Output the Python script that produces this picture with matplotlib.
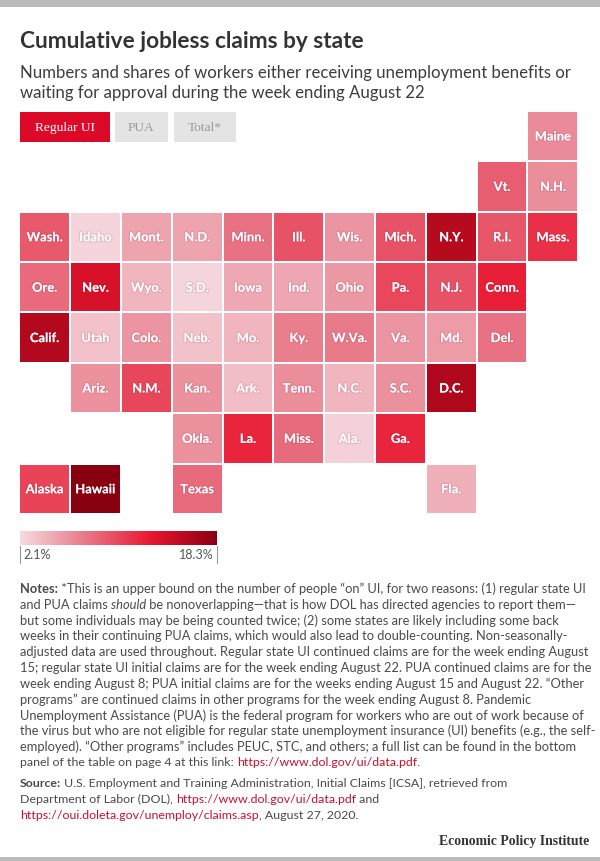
import numpy as np
import matplotlib
matplotlib.use("Agg")
import matplotlib.pyplot as plt
import matplotlib.patheffects as pe
from matplotlib.colors import LinearSegmentedColormap, Normalize
from matplotlib.patches import Rectangle

W, H = 600, 862

# tile grid, one list per row, None = empty cell
grid = [
    [None, None, None, None, None, None, None, None, None, None, "Maine"],
    [None, None, None, None, None, None, None, None, None, "Vt.", "N.H."],
    ["Wash.", "Idaho", "Mont.", "N.D.", "Minn.", "Ill.", "Wis.", "Mich.", "N.Y.", "R.I.", "Mass."],
    ["Ore.", "Nev.", "Wyo.", "S.D.", "Iowa", "Ind.", "Ohio", "Pa.", "N.J.", "Conn.", None],
    ["Calif.", "Utah", "Colo.", "Neb.", "Mo.", "Ky.", "W.Va.", "Va.", "Md.", "Del.", None],
    [None, "Ariz.", "N.M.", "Kan.", "Ark.", "Tenn.", "N.C.", "S.C.", "D.C.", None, None],
    [None, None, None, "Okla.", "La.", "Miss.", "Ala.", "Ga.", None, None, None],
    ["Alaska", "Hawaii", None, "Texas", None, None, None, None, "Fla.", None, None],
]

# share of workers, estimated from tile colour
shares = {
    "Maine": 6.5, "Vt.": 9.0, "N.H.": 6.3,
    "Wash.": 9.2, "Idaho": 2.6, "Mont.": 5.2, "N.D.": 5.2, "Minn.": 7.8, "Ill.": 9.6,
    "Wis.": 5.9, "Mich.": 9.6, "N.Y.": 15.8, "R.I.": 9.4, "Mass.": 11.5,
    "Ore.": 8.3, "Nev.": 14.0, "Wyo.": 4.2, "S.D.": 2.5, "Iowa": 4.9, "Ind.": 5.0,
    "Ohio": 5.8, "Pa.": 10.2, "N.J.": 9.6, "Conn.": 12.5,
    "Calif.": 15.9, "Utah": 3.6, "Colo.": 6.0, "Neb.": 3.5, "Mo.": 4.2, "Ky.": 7.2,
    "W.Va.": 7.4, "Va.": 5.9, "Md.": 5.6, "Del.": 7.8,
    "Ariz.": 6.1, "N.M.": 10.3, "Kan.": 6.1, "Ark.": 3.8, "Tenn.": 6.4, "N.C.": 4.2,
    "S.C.": 6.2, "D.C.": 16.2,
    "Okla.": 6.2, "La.": 12.2, "Miss.": 8.2, "Ala.": 2.7, "Ga.": 12.1,
    "Alaska": 10.5, "Hawaii": 18.3, "Texas": 8.2, "Fla.": 4.5,
}
vmin, vmax = 2.1, 18.3

title = "Cumulative jobless claims by state"
subtitle = [
    "Numbers and shares of workers either receiving unemployment benefits or",
    "waiting for approval during the week ending August 22",
]
buttons = ["Regular UI", "PUA", "Total*"]

R, I, L, N = "bold", "italic", "link", "normal"
notes = [
    [("Notes:", R), (" *This is an upper bound on the number of people \u201con\u201d UI, for two reasons: (1) regular state UI", N)],
    [("and PUA claims ", N), ("should", I), (" be nonoverlapping\u2014that is how DOL has directed agencies to report them\u2014", N)],
    [("but some individuals may be being counted twice; (2) some states are likely including some back", N)],
    [("weeks in their continuing PUA claims, which would also lead to double-counting. Non-seasonally-", N)],
    [("adjusted data are used throughout. Regular state UI continued claims are for the week ending August", N)],
    [("15; regular state UI initial claims are for the week ending August 22. PUA continued claims are for the", N)],
    [("week ending August 8; PUA initial claims are for the weeks ending August 15 and August 22. \u201cOther", N)],
    [("programs\u201d are continued claims in other programs for the week ending August 8. Pandemic", N)],
    [("Unemployment Assistance (PUA) is the federal program for workers who are out of work because of", N)],
    [("the virus but who are not eligible for regular state unemployment insurance (UI) benefits (e.g., the self-", N)],
    [("employed). \u201cOther programs\u201d includes PEUC, STC, and others; a full list can be found in the bottom", N)],
    [("panel of the table on page 4 at this link: ", N), ("https://www.dol.gov/ui/data.pdf.", L)],
]
source = [
    [("Source:", R), (" U.S. Employment and Training Administration, Initial Claims [ICSA], retrieved from", N)],
    [("Department of Labor (DOL), ", N), ("https://www.dol.gov/ui/data.pdf", L), (" and", N)],
    [("https://oui.doleta.gov/unemploy/claims.asp", L), (", August 27, 2020.", N)],
]

cmap = LinearSegmentedColormap.from_list(
    "epi", [(0, "#f5dce1"), (0.34, "#e87686"), (0.675, "#e9152f"), (1, "#880010")]
)
norm = Normalize(vmin, vmax)

fig = plt.figure(figsize=(W / 100, H / 100), dpi=100)
plt.rcParams["font.family"] = ["Lato", "DejaVu Sans"]


def px_axes(left, top, right, bottom):
    return fig.add_axes([left / W, 1 - bottom / H, (right - left) / W, (bottom - top) / H])


page = fig.add_axes([0, 0, 1, 1], zorder=5)
page.set_xlim(0, W)
page.set_ylim(H, 0)
page.axis("off")

page.add_patch(Rectangle((0, 0), W, 8, color="#bbbbbb", lw=0))
page.add_patch(Rectangle((0, 858), W, 4, color="#bbbbbb", lw=0))

page.text(20, 41, title, fontsize=16.25, fontweight="bold", color="#333333", va="center")
for y, line in zip((73, 93), subtitle):
    page.text(20, y, line, fontsize=12.05, color="#3d3d3d", va="center")

# tab buttons
tabs = [(20, 109.5, "#dc0a28", "white"), (114.5, 168, "#e4e4e4", "#999999"), (174, 236, "#e4e4e4", "#999999")]
for label, (x0, x1, bg, fg) in zip(buttons, tabs):
    page.add_patch(Rectangle((x0, 112.5), x1 - x0, 30.5, color=bg, lw=0))
    page.text((x0 + x1) / 2, 128, label, fontsize=9.6, family="Liberation Serif", color=fg,
              ha="center", va="center")

# tile map
nrows, ncols = len(grid), len(grid[0])
values = np.ma.masked_invalid(
    [[shares[s] if s else np.nan for s in row] for row in grid]
)
ax = px_axes(19.2, 111.8, 578.3, 515)
ax.pcolormesh(np.arange(ncols + 1), np.arange(nrows + 1), values, cmap=cmap, norm=norm,
              edgecolors="white", linewidth=1.1)
ax.set_xlim(0, ncols)
ax.set_ylim(nrows, 0)
ax.axis("off")
shadow = [pe.withStroke(linewidth=1.6, foreground=(0.55, 0.1, 0.2, 0.13))]
for r, row in enumerate(grid):
    for c, state in enumerate(row):
        if state:
            ax.text(c + 0.5, r + 0.51, state, color="white", fontsize=9.3, fontweight="bold",
                    ha="center", va="center", path_effects=shadow)

# colour legend
leg = px_axes(20, 531.5, 217, 546.5)
leg.imshow(np.linspace(0, 1, 256)[None, :], cmap=cmap, aspect="auto", extent=(vmin, vmax, 0, 1))
leg.axis("off")
page.plot([20, 20], [546.5, 564], color="#999999", lw=0.8)
page.plot([216.5, 216.5], [546.5, 564], color="#999999", lw=0.8)
page.text(23, 555, f"{vmin}%", fontsize=9, color="#555555", va="center")
page.text(214, 555, f"{vmax}%", fontsize=9, color="#555555", va="center", ha="right")


def draw_runs(runs, y, size=9.3):
    x = 20
    renderer = fig.canvas.get_renderer()
    for txt, kind in runs:
        t = page.text(x, y, txt, fontsize=size, va="center",
                      color="#c8102e" if kind == L else "#4a4a4a",
                      fontweight="bold" if kind == R else "normal",
                      fontstyle="italic" if kind == I else "normal")
        x = page.transData.inverted().transform(
            (t.get_window_extent(renderer).x1, 0))[0]


for i, runs in enumerate(notes):
    draw_runs(runs, 589 + i * 15.8, size=8.9 if i == len(notes) - 1 else 9.3)
for i, runs in enumerate(source):
    draw_runs(runs, 784 + i * 15.8, size=8.95)

page.text(589, 841.5, "Economic Policy Institute", family="Liberation Serif", fontweight="bold",
          fontsize=9.95, color="#333333", ha="right", va="center")

fig.savefig("out.png", dpi=100)
